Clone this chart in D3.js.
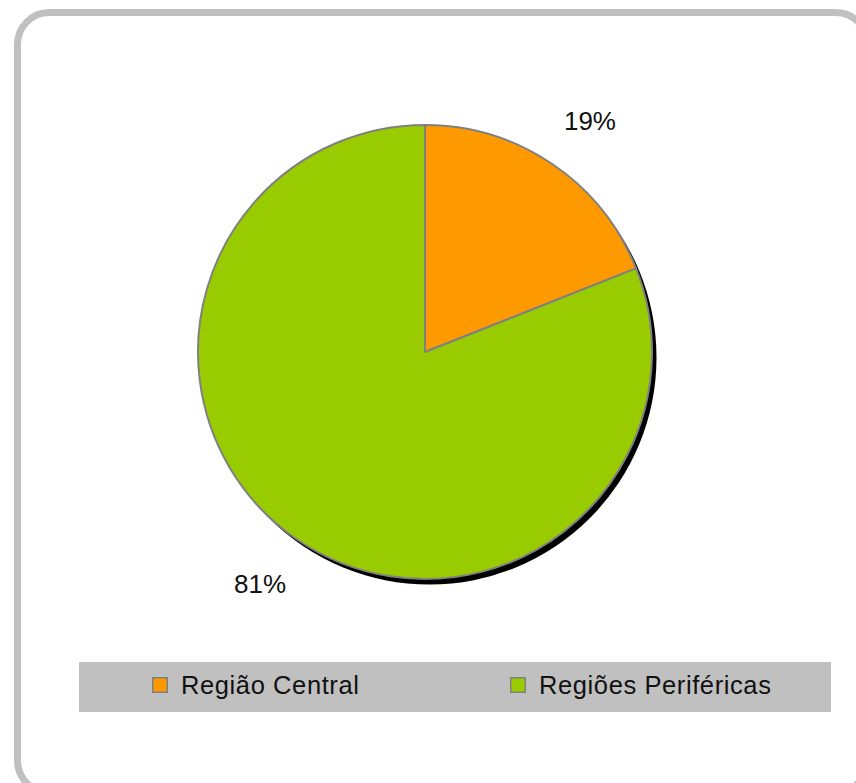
<!DOCTYPE html>
<html>
<head>
<meta charset="utf-8">
<script src="https://cdn.jsdelivr.net/npm/d3@7"></script>
<style>
  body { margin: 0; background: #fff; }
  svg { display: block; }
  .lbl { font-family: "Liberation Sans", Arial, sans-serif; font-size: 26px; fill: #111; }
  .leg-text { font-family: "Liberation Sans", Arial, sans-serif; font-size: 25.5px; fill: #111; letter-spacing: 0.6px; }
</style>
</head>
<body>
<div id="chart"></div>
<script>
const categories = ["Região Central", "Regiões Periféricas"];
const values = [19, 81];
const colors = ["#ff9900", "#99cc00"];

const W = 856, H = 783;
const svg = d3.select("#chart").append("svg").attr("width", W).attr("height", H);

// outer rounded frame
svg.append("rect")
  .attr("x", 17.5).attr("y", 12.5)
  .attr("width", 850).attr("height", 780)
  .attr("rx", 32).attr("ry", 32)
  .attr("fill", "#fff")
  .attr("stroke", "#c0c0c0")
  .attr("stroke-width", 7);

const cx = 425, cy = 352, r = 227;
const total = d3.sum(values);
const pie = d3.pie().sort(null).value(d => d)(values);
const arc = d3.arc().innerRadius(0).outerRadius(r);

const g = svg.append("g").attr("transform", `translate(${cx},${cy})`);

// shadow
g.append("circle")
  .attr("cx", 4.5).attr("cy", 5.5).attr("r", r)
  .attr("fill", "#000");

g.selectAll("path.slice")
  .data(pie)
  .join("path")
  .attr("class", "slice")
  .attr("d", arc)
  .attr("fill", (d, i) => colors[i])
  .attr("stroke", "#808080")
  .attr("stroke-width", 2)
  .attr("stroke-linejoin", "round");

// percentage labels
const lblR = 284;
const mid = d => (d.startAngle + d.endAngle) / 2 + 0.023;
g.selectAll("text.lbl")
  .data(pie)
  .join("text")
  .attr("class", "lbl")
  .attr("text-anchor", "middle")
  .attr("x", d => lblR * Math.sin(mid(d)))
  .attr("y", d => -lblR * Math.cos(mid(d)) + 9.5)
  .text(d => Math.round(d.value / total * 100) + "%");

// legend
const leg = svg.append("g");
leg.append("rect")
  .attr("x", 79).attr("y", 662)
  .attr("width", 752).attr("height", 50)
  .attr("fill", "#c0c0c0");

const legX = d3.scaleOrdinal().domain(categories).range([152, 510]);
const items = leg.selectAll("g.item")
  .data(categories)
  .join("g")
  .attr("class", "item")
  .attr("transform", d => `translate(${legX(d)},677)`);

items.append("rect")
  .attr("x", 0.75).attr("y", 0.75)
  .attr("width", 14.5).attr("height", 14.5)
  .attr("fill", (d, i) => colors[i])
  .attr("stroke", "#808080")
  .attr("stroke-width", 1.5);

items.append("text")
  .attr("class", "leg-text")
  .attr("x", 29).attr("y", 16.5)
  .text(d => d);
</script>
</body>
</html>
